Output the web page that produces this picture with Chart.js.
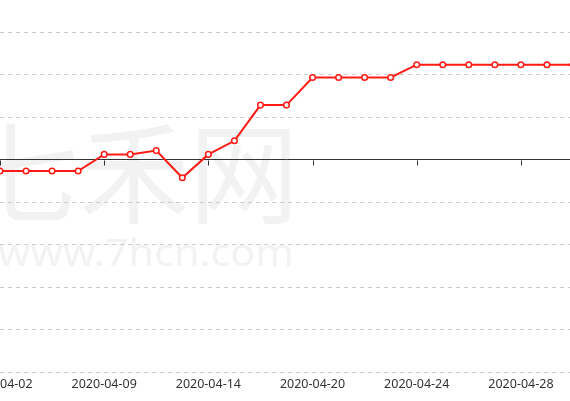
<!DOCTYPE html>
<html>
<head>
<meta charset="utf-8">
<script src="https://cdn.jsdelivr.net/npm/chart.js@4/dist/chart.umd.min.js"></script>
<style>
html,body{margin:0;padding:0;background:#fff;overflow:hidden;width:570px;height:401px;}
#wrap{position:absolute;left:-40px;top:0;width:653px;height:401px;}
</style>
</head>
<body>
<div id="wrap"><canvas id="c"></canvas></div>
<script>
const categories = ['2020-04-02','2020-04-03','2020-04-07','2020-04-08','2020-04-09','2020-04-10','2020-04-11','2020-04-13','2020-04-14','2020-04-15','2020-04-16','2020-04-17','2020-04-20','2020-04-21','2020-04-22','2020-04-23','2020-04-24','2020-04-25','2020-04-26','2020-04-27','2020-04-28','2020-04-29','2020-04-30'];
const values = [-0.27,-0.27,-0.27,-0.27,0.12,0.12,0.21,-0.43,0.12,0.44,1.28,1.28,1.93,1.93,1.93,1.93,2.23,2.23,2.23,2.23,2.23,2.23,2.23];
const shownTickIndex = [0,4,8,12,16,20];
const yMin = -5, yMax = 3, yStep = 1;
const watermarkMain = '七禾网';
const watermarkSub = 'www.7hcn.com';

const OFFSET = 40; // canvas shifted left by this many px

const watermark = {
  id: 'watermark',
  beforeDraw(chart) {
    const ctx = chart.ctx;
    ctx.save();
    ctx.fillStyle = '#f2f2f2';
    ctx.textAlign = 'center';
    ctx.textBaseline = 'middle';
    ctx.font = '110px "Noto Sans CJK SC"';
    ctx.fillText(watermarkMain, OFFSET + 134, 173);
    ctx.font = '38px "Noto Sans"';
    const w = ctx.measureText(watermarkSub).width;
    const sx = 296 / w;
    ctx.translate(OFFSET + 146, 255);
    ctx.scale(sx, 1);
    ctx.fillText(watermarkSub, 0, 0);
    ctx.restore();
  }
};

const zeroTicks = {
  id: 'zeroTicks',
  afterDatasetsDraw(chart) {
    const ctx = chart.ctx;
    const xs = chart.scales.x, ys = chart.scales.y;
    const y0 = Math.round(ys.getPixelForValue(0)) + 0.5;
    ctx.save();
    ctx.strokeStyle = '#333';
    ctx.lineWidth = 1;
    ctx.beginPath();
    shownTickIndex.forEach(i => {
      const px = Math.round(xs.getPixelForValue(i)) + 0.5;
      ctx.moveTo(px, y0);
      ctx.lineTo(px, y0 + 5);
    });
    ctx.stroke();
    ctx.restore();
  }
};

new Chart(document.getElementById('c'), {
  type: 'line',
  data: {
    labels: categories,
    datasets: [{
      data: values,
      borderColor: '#ff1a14',
      borderWidth: 2,
      pointRadius: 2.8,
      pointBorderWidth: 1.5,
      pointBackgroundColor: '#fff',
      pointBorderColor: '#ff1a14',
      tension: 0,
      clip: 0
    }]
  },
  options: {
    responsive: true,
    maintainAspectRatio: false,
    animation: false,
    events: [],
    layout: { padding: { left: OFFSET, right: OFFSET, top: 32, bottom: 4 } },
    plugins: { legend: { display: false }, tooltip: { enabled: false } },
    scales: {
      x: {
        type: 'category',
        offset: false,
        grid: { display: false, drawTicks: false },
        border: { display: false },
        ticks: {
          autoSkip: false,
          maxRotation: 0,
          minRotation: 0,
          padding: 5,
          color: '#333',
          font: { family: '"Noto Sans", sans-serif', size: 12.5 },
          callback: function(v, i) { return shownTickIndex.includes(i) ? categories[i] : null; }
        }
      },
      y: {
        min: yMin, max: yMax,
        ticks: { display: false, stepSize: yStep },
        grid: {
          drawTicks: false,
          color: ctx => ctx.tick && ctx.tick.value === 0 ? '#333' : '#cccccc',
          lineWidth: 1
        },
        border: {
          display: false,
          dash: ctx => ctx.tick && ctx.tick.value === 0 ? [] : [4, 4]
        }
      }
    }
  },
  plugins: [watermark, zeroTicks]
});
</script>
</body>
</html>
